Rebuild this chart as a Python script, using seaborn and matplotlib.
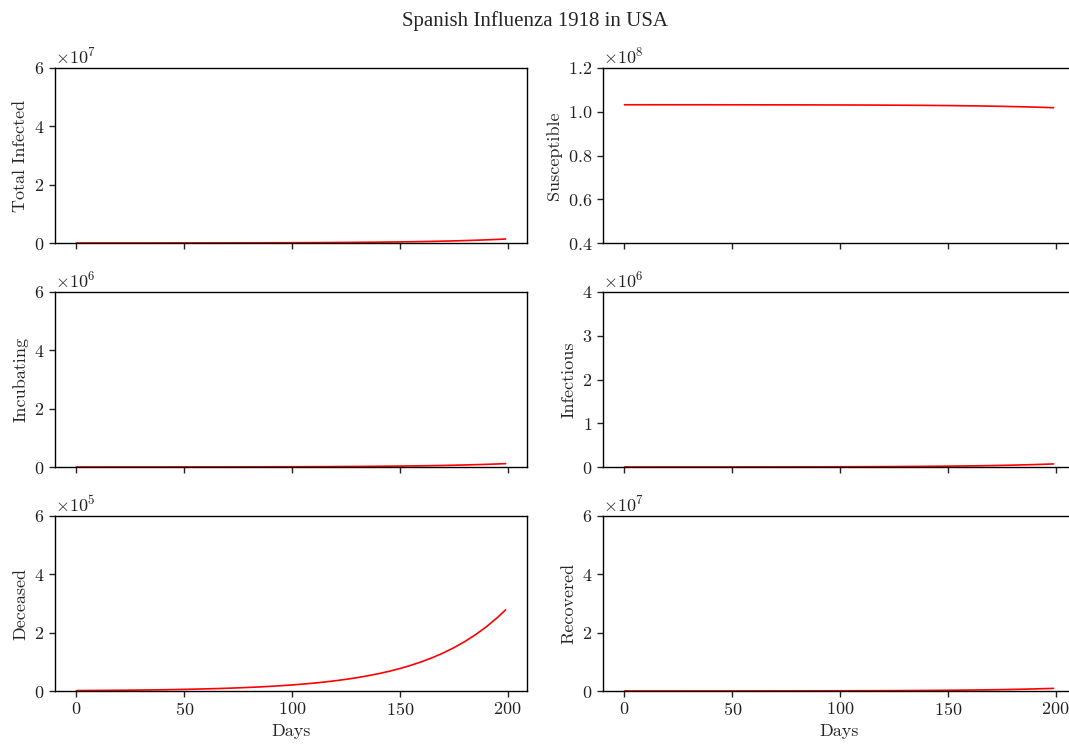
import matplotlib
matplotlib.use("Agg")
import matplotlib.pyplot as plt
import seaborn as sns
import pandas as pd

# Simulated compartments of the 1918 influenza outbreak in the USA
population = 103_200_000

days = [0, 5, 10, 15, 20, 25, 30, 35, 40, 45, 50, 55, 60, 65, 70, 75, 80, 85, 90, 95, 100,
        105, 110, 115, 120, 125, 130, 135, 140, 145, 150, 155, 160, 165, 170, 175, 180,
        185, 190, 195, 199]

incubating = [624, 713, 812, 927, 1055, 1204, 1371, 1565, 1781, 2034, 2312, 2644, 3013,
              3435, 3910, 4467, 5083, 5802, 6613, 7539, 8591, 9796, 11167, 12731, 14513,
              16549, 18860, 21505, 24518, 27945, 31855, 36317, 41400, 47185, 53797, 61330,
              69920, 79695, 90850, 103558, 115000]

infectious = [380, 434, 494, 564, 642, 733, 834, 953, 1084, 1238, 1407, 1609, 1834, 2091,
              2380, 2719, 3094, 3532, 4025, 4589, 5229, 5963, 6797, 7749, 8834, 10073,
              11480, 13090, 14924, 17010, 19390, 22106, 25200, 28721, 32746, 37331, 42560,
              48510, 55300, 63035, 70000]

deceased = [1510, 1720, 1960, 2240, 2550, 2910, 3310, 3780, 4310, 4920, 5590, 6390, 7280,
            8300, 9450, 10800, 12290, 14030, 15990, 18230, 20770, 23680, 26990, 30770,
            35080, 40000, 45590, 51990, 59270, 67550, 77010, 87790, 100080, 114060, 130050,
            148260, 169020, 192650, 219620, 250340, 278000]

recovered = [4890, 5580, 6350, 7250, 8250, 9420, 10730, 12250, 13940, 15920, 18090, 20690,
             23580, 26880, 30600, 34960, 39780, 45400, 51750, 59000, 67230, 76660, 87390,
             99630, 113580, 129510, 147600, 168300, 191880, 218700, 249300, 284220, 324000,
             369270, 421020, 479970, 547200, 623700, 711000, 810450, 900000]

# Everyone ever infected, and the rest of the population still susceptible
total_infected = [a + b + c + d for a, b, c, d in zip(incubating, infectious, deceased, recovered)]
susceptible = [population - t for t in total_infected]

panels = [
    ("Total Infected", total_infected, (0, 6e7), [0, 2e7, 4e7, 6e7]),
    ("Susceptible", susceptible, (0.4e8, 1.2e8), [0.4e8, 0.6e8, 0.8e8, 1.0e8, 1.2e8]),
    ("Incubating", incubating, (0, 6e6), [0, 2e6, 4e6, 6e6]),
    ("Infectious", infectious, (0, 4e6), [0, 1e6, 2e6, 3e6, 4e6]),
    ("Deceased", deceased, (0, 6e5), [0, 2e5, 4e5, 6e5]),
    ("Recovered", recovered, (0, 6e7), [0, 2e7, 4e7, 6e7]),
]

sns.set_style("ticks")
plt.rcParams["font.family"] = ["cmr10", "DejaVu Serif"]
plt.rcParams["mathtext.fontset"] = "cm"
plt.rcParams["axes.formatter.use_mathtext"] = True
plt.rcParams["axes.unicode_minus"] = False
plt.rcParams["axes.edgecolor"] = "black"
plt.rcParams["xtick.color"] = "#222222"
plt.rcParams["ytick.color"] = "#222222"

W, H = 1069, 744
fig = plt.figure(figsize=(W / 100, H / 100), dpi=100)

col_left = [55, 603]
row_top = [68, 292, 516]
ax_w, ax_h = 472, 175

for i, (name, values, ylim, yticks) in enumerate(panels):
    r, c = divmod(i, 2)
    x0 = col_left[c]
    y0 = row_top[r]
    ax = fig.add_axes([x0 / W, 1 - (y0 + ax_h) / H, ax_w / W, ax_h / H])
    df = pd.DataFrame({"Days": days, name: values})
    sns.lineplot(data=df, x="Days", y=name, ax=ax, color="red", linewidth=1.2)
    ax.set_ylim(*ylim)
    ax.set_yticks(yticks)
    ax.set_xticks([0, 50, 100, 150, 200])
    ax.ticklabel_format(axis="y", style="sci", scilimits=(0, 0), useMathText=True)
    ax.tick_params(labelsize=13, length=4, width=1)
    ax.yaxis.get_offset_text().set_fontsize(13)
    ax.set_ylabel(name, fontsize=13)
    for s in ax.spines.values():
        s.set_linewidth(1.0)
    if r < 2:
        ax.set_xlabel("")
        ax.tick_params(labelbottom=False)
    else:
        ax.set_xlabel("Days", fontsize=13)

fig.suptitle("Spanish Influenza 1918 in USA", y=0.985, fontsize=15,
             family=["Liberation Serif", "DejaVu Serif"])

fig.savefig("out.png", dpi=100)
